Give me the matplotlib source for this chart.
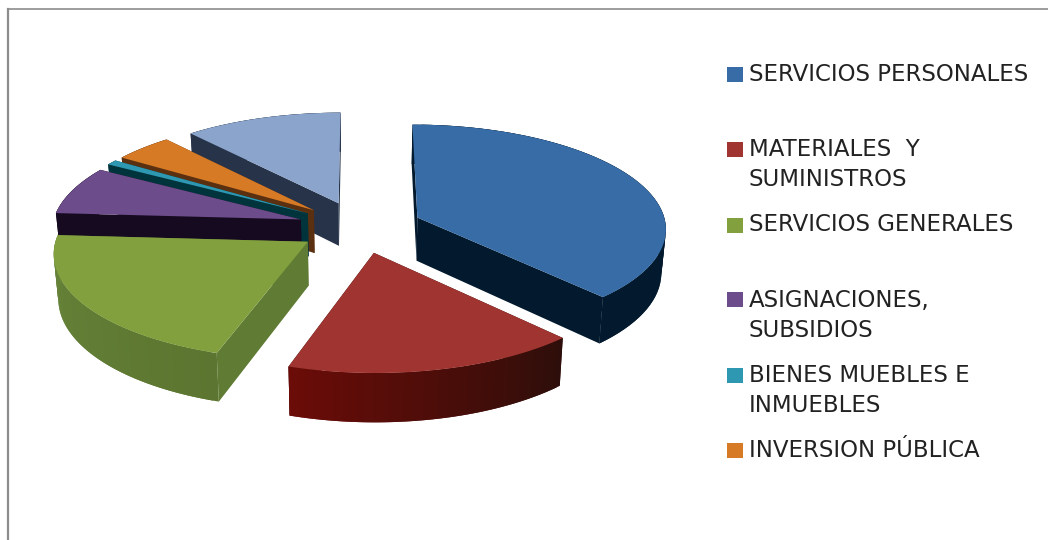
import numpy as np
import matplotlib
matplotlib.use("Agg")
import matplotlib.pyplot as plt
from matplotlib.patches import Polygon, Rectangle
from matplotlib.colors import to_rgb

# ---- data
values = [38.0, 17.0, 21.0, 7.5, 0.8, 4.3, 11.4]
legend_labels = ["SERVICIOS PERSONALES", "MATERIALES  Y\nSUMINISTROS", "SERVICIOS GENERALES",
                 "ASIGNACIONES,\nSUBSIDIOS", "BIENES MUEBLES E\nINMUEBLES", "INVERSION PÚBLICA"]
top_colors = ["#376CA6", "#A03430", "#82A13E", "#6D4C8B", "#2E98B2", "#D67A26", "#8BA4CB"]
wall_start = ["#031A2E", "#2E0E0A", "#5C7530", "#160A20", "#00343C", "#5A3010", "#263349"]
wall_end = ["#031A2E", "#6B0C08", "#67853A", "#160A20", "#00343C", "#5A3010", "#263349"]
face_colors = ["#031A2E", "#2E0E0A", "#607B33", "#160A20", "#00343C", "#5A3010", "#263349"]

# ---- 3-D look of the pie (pixels)
CX, CY, RX, RY, DEPTH, PERSP, EXPLODE, TAPER = 360, 227, 249, 103.5, 43.5, 0.095, 0.25, 0.015
draw_order = [6, 5, 4, 3, 2, 0, 1]
legend_swatch_y = [74.5, 149, 225, 299, 375, 450]
legend_baselines = [[81], [156, 186], [231], [307, 337], [382, 412], [457]]


def project(gx, gy, h):
    w = 1 + PERSP * gy
    return CX + RX * gx / w * (1 - TAPER * h), CY - RY * gy / w + DEPTH * h / w


fig = plt.figure(figsize=(10.48, 5.40), dpi=100, facecolor="white")
ax = fig.add_axes([0, 0, 1, 1])
ax.set_xlim(0, 1048)
ax.set_ylim(540, 0)
ax.axis("off")

fractions = np.array(values) / sum(values) * 2 * np.pi
edges = np.concatenate([[0], np.cumsum(fractions)])

for i in draw_order:
    a0, a1 = edges[i], edges[i + 1]
    mid = (a0 + a1) / 2
    ax0, ay0 = EXPLODE * np.sin(mid), EXPLODE * np.cos(mid)
    theta = np.linspace(a0, a1, 60)
    gx, gy = ax0 + np.sin(theta), ay0 + np.cos(theta)
    # radial faces
    for gxe, gye in [(gx[0], gy[0]), (gx[-1], gy[-1])]:
        face = [project(ax0, ay0, 0), project(gxe, gye, 0), project(gxe, gye, 1), project(ax0, ay0, 1)]
        ax.add_patch(Polygon(face, closed=True, fc=face_colors[i], ec="none"))
    # outer wall, with a colour gradient along the arc; each strip overlaps the next
    c0, c1 = np.array(to_rgb(wall_start[i])), np.array(to_rgb(wall_end[i]))
    n = len(theta)
    for j in range(n - 1):
        t = j / (n - 2)
        col = c0 * (1 - t) + c1 * t
        k = min(j + 2, n - 1)
        quad = [project(gx[q], gy[q], 0) for q in range(j, k + 1)] + \
               [project(gx[q], gy[q], 1) for q in range(k, j - 1, -1)]
        ax.add_patch(Polygon(quad, closed=True, fc=col, ec="none"))
    # top surface
    top = [project(ax0, ay0, 0)] + [project(x, y, 0) for x, y in zip(gx, gy)]
    ax.add_patch(Polygon(top, closed=True, fc=top_colors[i], ec="none"))

# legend
for label, col, sy, bases in zip(legend_labels, top_colors, legend_swatch_y, legend_baselines):
    ax.add_patch(Rectangle((727, sy - 7.5), 16, 15, fc=col, ec="none"))
    for line, b in zip(label.split("\n"), bases):
        ax.text(749, b, line, fontsize=16.5, family="DejaVu Sans", color="#222222", va="baseline", ha="left")

# frame
ax.plot([7.5, 7.5], [540, 8.5], color="#8c8c8c", lw=1.6, solid_capstyle="projecting")
ax.plot([7.5, 1048], [8.5, 8.5], color="#8c8c8c", lw=1.2, solid_capstyle="projecting")

fig.savefig("out.png", dpi=100)
